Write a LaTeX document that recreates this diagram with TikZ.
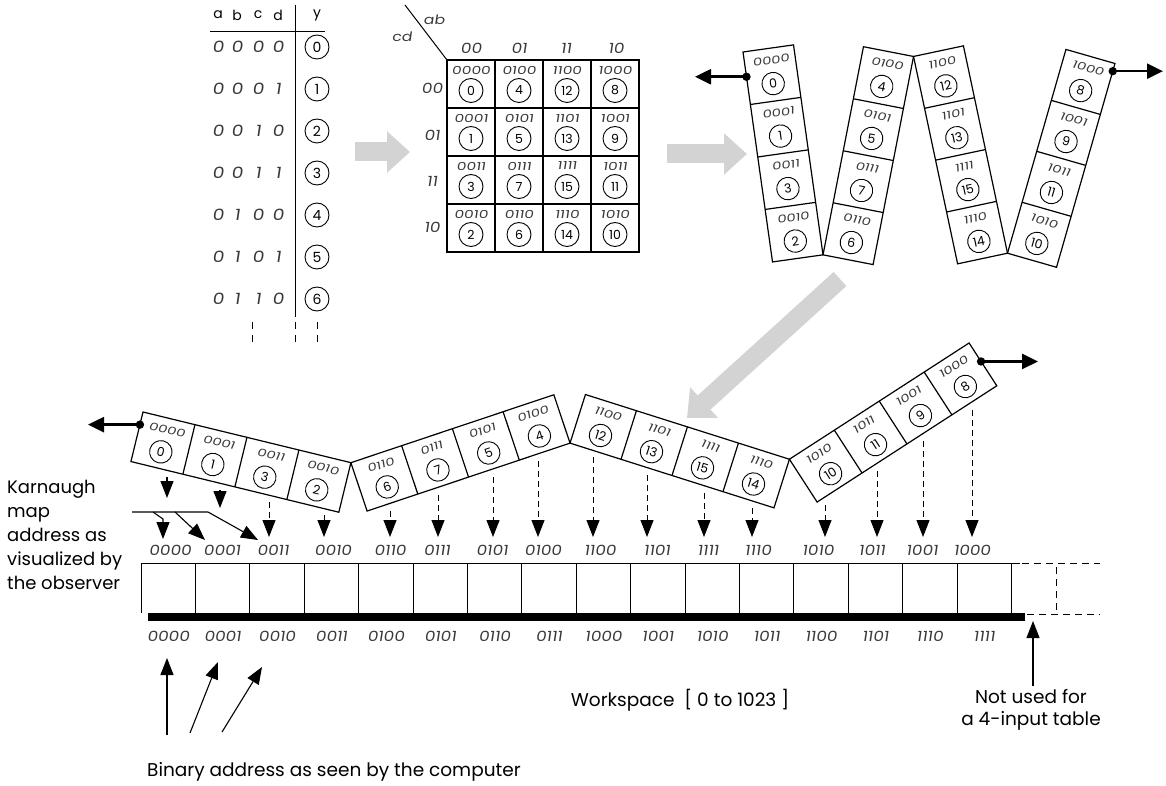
\documentclass[tikz,border=0pt]{standalone}
\usepackage{fontspec}
\setmainfont{Poppins}
\newfontfamily\slantf[FakeSlant=0.15,FakeStretch=1.2]{Poppins}
\newfontfamily\lblf[FakeSlant=0.15,FakeStretch=1.4]{Poppins}
\usetikzlibrary{arrows.meta}
\definecolor{labgray}{HTML}{3A3A3A}
\definecolor{bigarrow}{HTML}{D3D3D3}
\newcommand\vstrip[2]{%
  \draw[cell] (0,0) rectangle (51,212);
  \foreach \lab/\num [count=\i from 0] in {#2}{%
    \ifnum\i>0 \draw[cell] (0,{53*\i}) -- (51,{53*\i});\fi
    \node[lbl,transform shape] (#1l\i) at (26.5,{53*\i+12}) {\lab};
    \node[cnum,transform shape] (#1c\i) at (25.5,{53*\i+35.5}) {\num};
  }}
\newcommand\hstrip[2]{%
  \draw[cell] (0,0) rectangle (214,51);
  \foreach \lab/\num [count=\i from 0] in {#2}{%
    \ifnum\i>0 \draw[cell] ({53.5*\i},0) -- ({53.5*\i},51);\fi
    \node[lbl,transform shape] (#1l\i) at ({53.5*\i+27.5},11.5) {\lab};
    \node[cnum,transform shape] (#1c\i) at ({53.5*\i+26.75},34.5) {\num};
  }}
\begin{document}
\begin{tikzpicture}[x=1pt,y=-1pt,
  every node/.style={inner sep=0pt},
  lbl/.style={font=\lblf\fontsize{10.5}{11}\selectfont, text=labgray},
  addr/.style={font=\slantf\fontsize{14}{14}\selectfont, text=labgray},
  cnum/.style={circle, draw, line width=0.9pt, minimum size=22.5pt, font=\fontsize{12.5}{13}\selectfont},
  ttd/.style={font=\slantf\fontsize{15.5}{15}\selectfont, text=labgray},
  tth/.style={font=\fontsize{14}{14}\selectfont},
  cell/.style={line width=1.2pt},
  kgrid/.style={line width=1.8pt},
  dasharr/.style={dash pattern=on 6pt off 4pt, line width=1pt, -{Triangle[width=13pt,length=17pt]}},
  solarr/.style={line width=1.1pt, -{Triangle[width=13pt,length=17pt]}},
  bigarr/.style={line width=19pt, bigarrow, -{Triangle[width=40pt,length=23pt]}},
  dotarr/.style={line width=2.6pt, -{Triangle[width=15pt,length=16pt]}},
  txt/.style={font=\fontsize{18}{24}\selectfont, align=left},
  btxt/.style={font=\fontsize{18.5}{22}\selectfont},
  ext/.style={dash pattern=on 7pt off 5pt, line width=0.9pt}
]
\useasboundingbox (0,0) rectangle (1166,786);

% ---------------- gray arrows (behind)
\coordinate (g1s) at (355,152); \coordinate (g1e) at (410,152);
\coordinate (g2s) at (667,154); \coordinate (g2e) at (747,154);
\coordinate (g3s) at (840,279); \coordinate (g3e) at (687,418);
\draw[bigarr] (g1s) -- (g1e);
\draw[bigarr] (g2s) -- (g2e);
\draw[bigarr] (g3s) -- (g3e);

% ---------------- truth table
\foreach \h/\x in {a/218,b/237,c/258,d/278,y/317}
  \node[tth] (th\h) at (\x,15) {\h};
\draw[line width=1pt] (210,32) -- (325,32);
\draw[line width=1pt] (295,5) -- (295,317);
\foreach \a/\b/\c/\d [count=\r from 0] in {0/0/0/0,0/0/0/1,0/0/1/0,0/0/1/1,0/1/0/0,0/1/0/1,0/1/1/0}{
  \node[ttd] (ta\r) at (218,{47+42*\r}) {\a};
  \node[ttd] (tb\r) at (237,{47+42*\r}) {\b};
  \node[ttd] (tc\r) at (258,{47+42*\r}) {\c};
  \node[ttd] (td\r) at (278,{47+42*\r}) {\d};
  \pgfmathtruncatemacro\n{\r}
  \node[cnum,minimum size=24pt,font=\fontsize{14}{14}\selectfont] (ty\r) at (317,{47+42*\r}) {\n};
}
\foreach \x in {252,295,317}{
  \draw[line width=1pt] (\x,322) -- (\x,329);
  \draw[line width=1pt] (\x,335) -- (\x,342);
}

% ---------------- Karnaugh map
\draw[line width=1pt] (405,5) coordinate (kd0) -- (447,60) coordinate (kd1);
\node[ttd,font=\slantf\fontsize{13}{13}\selectfont] (kab) at (434,20) {ab};
\node[ttd,font=\slantf\fontsize{13}{13}\selectfont] (kcd) at (402,37) {cd};
\foreach \t/\x in {00/471,01/519,11/566,10/616}
  \node[addr] (kh\t) at (\x,48) {\t};
\foreach \t/\y in {00/88,01/135,11/181,10/227}
  \node[addr] (kr\t) at (432,\y) {\t};
\draw[kgrid] (447,60) rectangle (639,252);
\foreach \k in {1,2,3}{
  \draw[kgrid] ({447+48*\k},60) -- ({447+48*\k},252);
  \draw[kgrid] (447,{60+48*\k}) -- (639,{60+48*\k});
}
\foreach \lab/\num [count=\k from 0] in {0000/0,0100/4,1100/12,1000/8,
  0001/1,0101/5,1101/13,1001/9, 0011/3,0111/7,1111/15,1011/11,
  0010/2,0110/6,1110/14,1010/10}{
  \pgfmathtruncatemacro\cc{mod(\k,4)}
  \pgfmathtruncatemacro\rr{div(\k,4)}
  \node[lbl,font=\lblf\fontsize{11}{11}\selectfont] (kl\k) at ({471+48*\cc},{60+48*\rr+10}) {\lab};
  \node[cnum,minimum size=24pt] (kc\k) at ({471+48*\cc},{60+48*\rr+30.5}) {\num};
}

% ---------------- top W
\begin{scope}[shift={(743,52)},rotate=8]
  \vstrip{Wa}{0000/0,0001/1,0011/3,0010/2}
  \coordinate (Wabr) at (51,212);
  \coordinate (Wadot) at (0,25);
\end{scope}
\begin{scope}[shift={(Wabr)},rotate=-11,shift={(0,-212)}]
  \vstrip{Wb}{0100/4,0101/5,0111/7,0110/6}
  \coordinate (Wbtr) at (51,0);
\end{scope}
\begin{scope}[shift={(Wbtr)},rotate=12]
  \vstrip{Wc}{1100/12,1101/13,1111/15,1110/14}
  \coordinate (Wcbr) at (51,212);
\end{scope}
\begin{scope}[shift={(Wcbr)},rotate=-16,shift={(0,-212)}]
  \vstrip{Wd}{1000/8,1001/9,1011/11,1010/10}
  \coordinate (Wddot) at (51,8);
\end{scope}
\coordinate (xl1) at (695,0);
\coordinate (xr1) at (1163,0);
\fill (Wadot) circle (4.2);
\fill (Wddot) circle (4.2);
\draw[dotarr] (Wadot) -- (Wadot -| xl1);
\draw[dotarr] (Wddot) -- (Wddot -| xr1);

% ---------------- bottom chain
\begin{scope}[shift={(143,412)},rotate=-13.7]
  \hstrip{Ba}{0000/0,0001/1,0011/3,0010/2}
  \coordinate (Batr) at (214,0);
  \coordinate (Badot) at (0,13);
\end{scope}
\begin{scope}[shift={(Batr)},rotate=18.5]
  \hstrip{Bb}{0110/6,0111/7,0101/5,0100/4}
  \coordinate (Bbbr) at (214,51);
\end{scope}
\begin{scope}[shift={(Bbbr)},rotate=-17.6,shift={(0,-51)}]
  \hstrip{Bc}{1100/12,1101/13,1111/15,1110/14}
  \coordinate (Bctr) at (214,0);
\end{scope}
\begin{scope}[shift={(Bctr)},rotate=32.9]
  \hstrip{Bd}{1010/10,1011/11,1001/9,1000/8}
  \coordinate (Bddot) at (214,22);
\end{scope}
\coordinate (xl2) at (88,0);
\coordinate (xr2) at (1038,0);
\fill (Badot) circle (4.2);
\fill (Bddot) circle (4.2);
\draw[dotarr] (Badot) -- (Badot -| xl2);
\draw[dotarr] (Bddot) -- (Bddot -| xr2);

% ---------------- address labels (observer)
\foreach \x/\t [count=\k from 0] in {170/0000,222/0001,273/0011,333/0010,390/0110,437/0111,492/0101,543/0100,
  600/1100,657/1101,708/1111,758/1110,818/1010,872/1011,922/1001,972/1000}
  \node[addr] (ka\k) at (\x,550) {\t};
\coordinate (tipy) at (0,537);
\foreach \x/\y [count=\k from 0] in {269/502,324/515,390/511,438/495,493/477,538/461,593/457,647/475,
  704/493,752/508,825/505,877/471,923/441,972/410}{
  \coordinate (ds\k) at (\x,\y);
  \draw[dasharr] (ds\k) -- (ds\k |- tipy);
}
\coordinate (ss0) at (167,477); \coordinate (se0) at (167,498);
\coordinate (ss1) at (220,490); \coordinate (se1) at (220,508);
\draw[solarr] (ss0) -- (se0);
\draw[solarr] (ss1) -- (se1);

% Karnaugh observer arrows
\coordinate (kk0) at (132,512); \coordinate (kk1) at (153,512); \coordinate (kk2) at (175,512);
\coordinate (kk3) at (208,512); \coordinate (kk4) at (163,519);
\coordinate (kt0) at (163,539); \coordinate (kt1) at (205,540); \coordinate (kt2) at (258,540);
\draw[solarr] (kk0) -- (kk3) -- (kt2);
\draw[solarr] (kk1) -- (kk4) -- (kt0);
\draw[solarr] (kk2) -- (kt1);
\node[txt,anchor=north west] (kobs) at (7,480) {Karnaugh\\map\\address as\\visualized by\\the observer};

% ---------------- workspace memory
\draw[line width=1pt] (141,563) -- (1020,563);
\foreach \k in {0,...,16}
  \draw[line width=1pt] ({141+54.4*\k},563) -- ({141+54.4*\k},613);
\fill (148,613) rectangle (1025,621);
\draw[ext] (1022,563) -- (1100,563);
\draw[ext] (1056,567) -- (1056,611);
\draw[ext] (1027,614) -- (1100,614);
\foreach \t [count=\k from 0] in {0000,0001,0010,0011,0100,0101,0110,0111,1000,1001,1010,1011,1100,1101,1110,1111}
  \node[addr] (wa\k) at ({141+54.4*(\k+0.5)},636) {\t};

\node[btxt] (ws) at (680,700) {Workspace \ [ 0 to 1023 ]};
\node[btxt, align=center] (nu) at (1031,710) {Not used for\\ a 4-input table};
\coordinate (nuend) at (1033,621);
\coordinate (nust) at (1033,686);
\draw[solarr] (nust) -- (nuend);
\node[btxt, anchor=west] (ba) at (147,772) {Binary address as seen by the computer};
\coordinate (bs0) at (167,735); \coordinate (be0) at (167,658);
\coordinate (bs1) at (190,733); \coordinate (be1) at (218,662);
\coordinate (bs2) at (222,732); \coordinate (be2) at (262,667);
\draw[solarr] (bs0) -- (be0);
\draw[solarr] (bs1) -- (be1);
\draw[solarr] (bs2) -- (be2);
\end{tikzpicture}
\end{document}
